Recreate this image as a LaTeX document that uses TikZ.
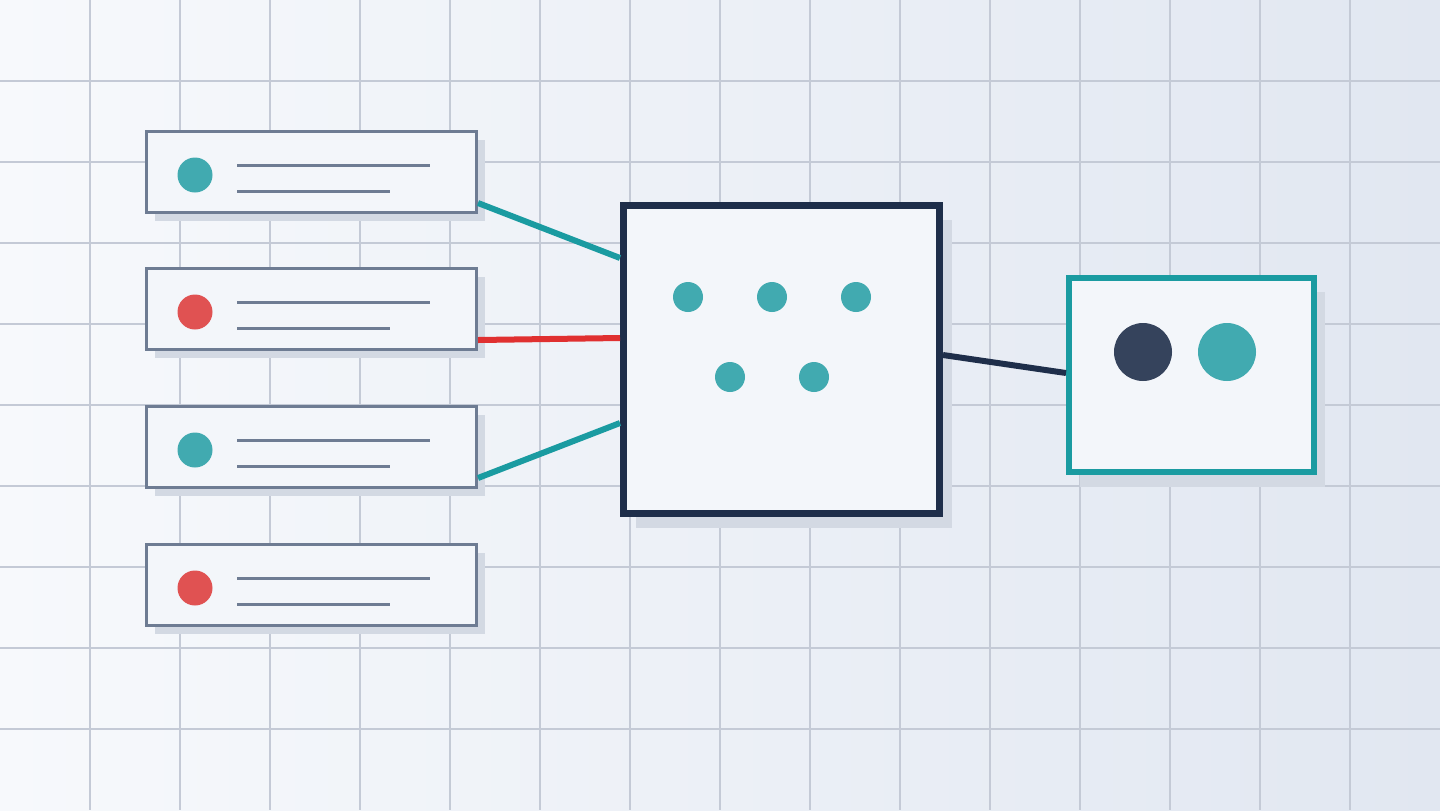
\documentclass[tikz,border=0pt]{standalone}
\usepackage{xcolor}
\usepackage{tikz}
\definecolor{bgA}{HTML}{F7F9FC}
\definecolor{bgB}{HTML}{E1E7F1}
\definecolor{gridc}{HTML}{C4CAD6}
\definecolor{slate}{HTML}{6E7C93}
\definecolor{navy}{HTML}{1E2E4A}
\definecolor{teal}{HTML}{1A9BA1}
\definecolor{tealdot}{HTML}{41AAB0}
\definecolor{reddot}{HTML}{E05252}
\definecolor{redline}{HTML}{E03030}
\definecolor{panel}{HTML}{F3F6FA}
\definecolor{shade}{HTML}{D3D9E3}
\tikzset{
  card/.style={draw=slate, line width=1.5pt, fill=panel},
  shadow/.style={fill=shade, draw=none},
  dot/.style={circle, inner sep=0pt, minimum size=#1},
}
\begin{document}
\begin{tikzpicture}[x=0.5pt, y=-0.5pt]
        \useasboundingbox (0,0) rectangle (1440,810);
        \shade[left color=bgA, right color=bgB] (0,0) rectangle (1440,810);
        \foreach \x in {90,180,...,1350}
            \draw[gridc, line width=0.6pt] (\x,0) -- (\x,810);
        \foreach \y in {81,162,...,729}
            \draw[gridc, line width=0.6pt] (0,\y) -- (1440,\y);

        % sources
        \foreach \i/\y/\c in {1/130/tealdot, 2/267/reddot, 3/405/tealdot, 4/543/reddot} {
            \fill[shadow] (155,\y+10) rectangle (485,\y+91);
            \node[card, minimum width=165pt, minimum height=40.5pt, inner sep=0pt, anchor=north west] (S\i) at (145,\y) {};
            \node[dot=17.5pt, fill=\c] (D\i) at (195,\y+45) {};
            \draw[slate, line width=1.5pt] (237,\y+35) -- (430,\y+35);
            \draw[slate, line width=1.5pt] (237,\y+61) -- (390,\y+61);
        }

        % hub
        \fill[shadow] (636,220) rectangle (952,528);
        \node[draw=navy, line width=3.5pt, fill=panel, minimum width=158pt, minimum height=154pt, inner sep=0pt, anchor=north west] (H) at (620,202) {};
        \foreach \x/\y [count=\k] in {688/297, 772/297, 856/297, 730/377, 814/377}
            \node[dot=15pt, fill=tealdot] (h\k) at (\x,\y) {};

        % target
        \fill[shadow] (1080,292) rectangle (1325,487);
        \node[draw=teal, line width=3pt, fill=panel, minimum width=122.5pt, minimum height=97pt, inner sep=0pt, anchor=north west] (T) at (1066,275) {};
        \node[dot=29pt, fill=navy!90] (t1) at (1143,352) {};
        \node[dot=29pt, fill=tealdot] (t2) at (1227,352) {};

        \coordinate (a1) at (620,258);
        \coordinate (a2) at (620,338);
        \coordinate (a3) at (620,423);
        \coordinate (b1) at (1066,373);
        \draw[teal, line width=3pt] (S1.east |- 0,203) -- (a1);
        \draw[redline, line width=3pt] (S2.east |- 0,340) -- (a2);
        \draw[teal, line width=3pt] (S3.east |- 0,478) -- (a3);
        \draw[navy, line width=3pt] (H.east |- 0,355) -- (b1);
\end{tikzpicture}
\end{document}
